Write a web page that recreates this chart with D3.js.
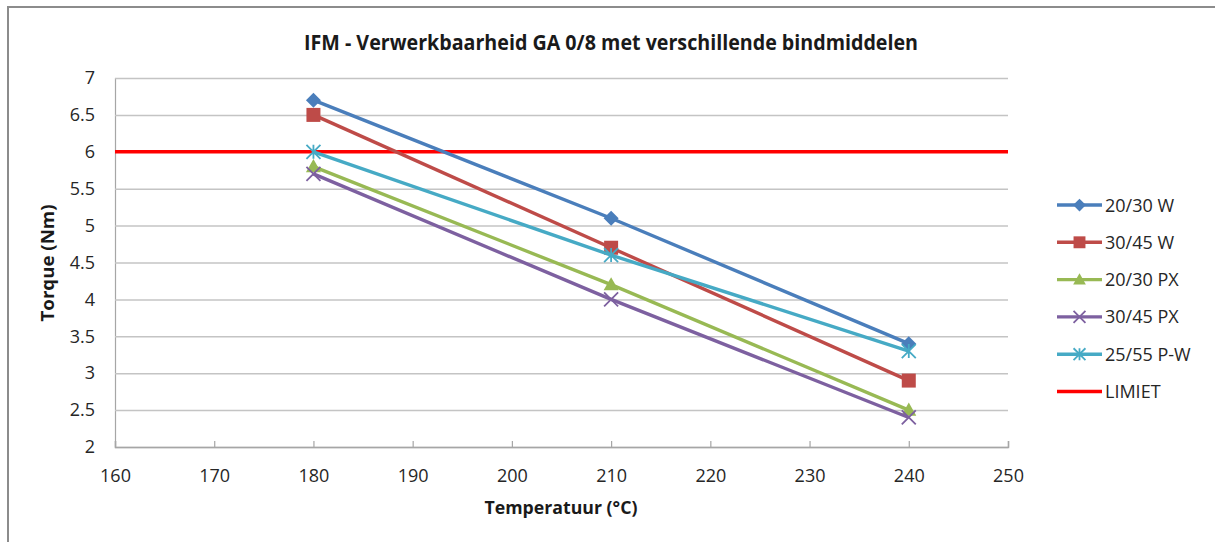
<!DOCTYPE html>
<html><head><meta charset="utf-8">
<script src="https://cdn.jsdelivr.net/npm/d3@7"></script>
<style>html,body{margin:0;padding:0;background:#fff;}svg{display:block;}</style>
</head><body>
<svg id="c" width="1215" height="542"></svg>
<script>
const temperatures = [180, 210, 240];
const s2030W = [6.7, 5.1, 3.4];
const s3045W = [6.5, 4.7, 2.9];
const s2030PX = [5.8, 4.2, 2.5];
const s3045PX = [5.7, 4.0, 2.4];
const s2555PW = [6.0, 4.6, 3.3];
const limietX = [160, 250];
const limietY = [6, 6];
const xTicks = [160, 170, 180, 190, 200, 210, 220, 230, 240, 250];
const yTicks = [2, 2.5, 3, 3.5, 4, 4.5, 5, 5.5, 6, 6.5, 7];
const seriesNames = ["20/30 W", "30/45 W", "20/30 PX", "30/45 PX", "25/55 P-W", "LIMIET"];
const titleText = "IFM - Verwerkbaarheid GA 0/8 met verschillende bindmiddelen";
const xTitle = "Temperatuur (°C)";
const yTitle = "Torque (Nm)";

const series = [
  {name: seriesNames[0], x: temperatures, y: s2030W, color: "#4A7EBB", marker: "diamond"},
  {name: seriesNames[1], x: temperatures, y: s3045W, color: "#BE4B48", marker: "square"},
  {name: seriesNames[2], x: temperatures, y: s2030PX, color: "#98B954", marker: "triangle"},
  {name: seriesNames[3], x: temperatures, y: s3045PX, color: "#7D60A0", marker: "x"},
  {name: seriesNames[4], x: temperatures, y: s2555PW, color: "#46AAC5", marker: "star"},
  {name: seriesNames[5], x: limietX, y: limietY, color: "#FF0000", marker: "none"}
];

const svg = d3.select("#c");
const font = "'Open Sans', 'Liberation Sans', sans-serif";
const L = 115, R = 1008, T = 78, B = 447;

// outer border
svg.append("rect").attr("x", 8).attr("y", 7).attr("width", 1215).attr("height", 542)
  .attr("fill", "#fff").attr("stroke", "#8c8c8c").attr("stroke-width", 2);

const x = d3.scaleLinear().domain([160, 250]).range([L, R]);
const y = d3.scaleLinear().domain([2, 7]).range([B, T]);

// gridlines
const yAxis = d3.axisLeft(y).tickValues(yTicks).tickSize(-(R - L)).tickFormat(d3.format("~g")).tickPadding(20);
const gy = svg.append("g").attr("transform", `translate(${L},0)`).call(yAxis);
gy.select(".domain").attr("stroke", "#a6a6a6").attr("stroke-width", 1.2);
gy.selectAll(".tick line").attr("stroke", "#c4c4c4").attr("stroke-width", 1.5);
gy.selectAll(".tick text").attr("font-family", font).attr("font-size", 18).attr("fill", "#262626");

const xAxis = d3.axisBottom(x).tickValues(xTicks).tickSize(-6).tickPadding(22).tickFormat(d3.format("d"));
const gx = svg.append("g").attr("transform", `translate(0,${B})`).call(xAxis);
gx.select(".domain").attr("stroke", "#a6a6a6").attr("stroke-width", 1.5);
gx.selectAll(".tick line").attr("stroke", "#a6a6a6").attr("stroke-width", 1.2);
gx.selectAll(".tick text").attr("font-family", font).attr("font-size", 18).attr("fill", "#262626");

// titles
svg.append("text").attr("x", 611).attr("y", 50).attr("text-anchor", "middle")
  .attr("font-family", font).attr("font-weight", "bold").attr("font-size", 22).attr("fill", "#1a1a1a")
  .attr("textLength", 614).attr("lengthAdjust", "spacingAndGlyphs")
  .text(titleText);
svg.append("text").attr("x", 561).attr("y", 514).attr("text-anchor", "middle")
  .attr("font-family", font).attr("font-weight", "bold").attr("font-size", 18).attr("fill", "#1a1a1a")
  .attr("textLength", 153).attr("lengthAdjust", "spacingAndGlyphs")
  .text(xTitle);
svg.append("text").attr("transform", "translate(54,263) rotate(-90)").attr("text-anchor", "middle")
  .attr("font-family", font).attr("font-weight", "bold").attr("font-size", 18).attr("fill", "#1a1a1a")
  .attr("textLength", 117).attr("lengthAdjust", "spacingAndGlyphs")
  .text(yTitle);

function drawMarker(g, type, cx, cy, color, scale) {
  const s = scale || 1;
  if (type === "diamond") {
    const r = 7.5 * s;
    g.append("path").attr("d", `M${cx},${cy - r}L${cx + r},${cy}L${cx},${cy + r}L${cx - r},${cy}Z`).attr("fill", color);
  } else if (type === "square") {
    const r = 7 * s;
    g.append("rect").attr("x", cx - r).attr("y", cy - r).attr("width", 2 * r).attr("height", 2 * r).attr("fill", color);
  } else if (type === "triangle") {
    const r = 7.5 * s;
    g.append("path").attr("d", `M${cx},${cy - r}L${cx + r},${cy + r * 0.75}L${cx - r},${cy + r * 0.75}Z`).attr("fill", color);
  } else if (type === "x") {
    const r = 7 * s;
    g.append("path").attr("d", `M${cx - r},${cy - r}L${cx + r},${cy + r}M${cx - r},${cy + r}L${cx + r},${cy - r}`)
      .attr("stroke", color).attr("stroke-width", 1.8).attr("fill", "none");
  } else if (type === "star") {
    const r = 7 * s;
    g.append("path").attr("d", `M${cx - r},${cy - r}L${cx + r},${cy + r}M${cx - r},${cy + r}L${cx + r},${cy - r}M${cx},${cy - r}L${cx},${cy + r}`)
      .attr("stroke", color).attr("stroke-width", 1.8).attr("fill", "none");
  }
}

const line = d3.line().x(d => x(d[0])).y(d => y(d[1]));
const plot = svg.append("g");
const order = [5, 0, 1, 2, 3, 4];
order.forEach(i => {
  const s = series[i];
  const pts = s.x.map((v, j) => [v, s.y[j]]);
  plot.append("path").attr("d", line(pts)).attr("fill", "none")
    .attr("stroke", s.color).attr("stroke-width", 3.4).attr("stroke-linejoin", "round");
  pts.forEach(p => drawMarker(plot, s.marker, x(p[0]), y(p[1]), s.color));
});

// legend
const lg = svg.append("g");
series.forEach((s, i) => {
  const ly = 205 + i * 37.3;
  lg.append("line").attr("x1", 1057).attr("x2", 1102).attr("y1", ly).attr("y2", ly)
    .attr("stroke", s.color).attr("stroke-width", 3.4);
  drawMarker(lg, s.marker, 1079.5, ly, s.color, 0.85);
  lg.append("text").attr("x", 1105).attr("y", ly + 6.5).attr("font-family", font).attr("font-size", 18)
    .attr("fill", "#262626").text(s.name);
});
</script>
</body></html>
